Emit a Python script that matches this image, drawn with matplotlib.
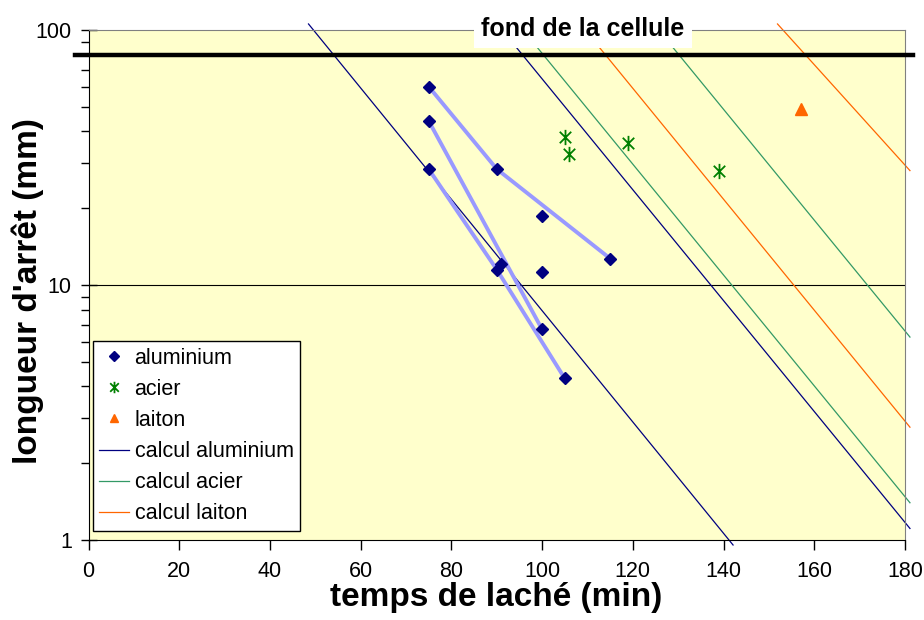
import matplotlib
matplotlib.use("Agg")
import matplotlib.pyplot as plt
from matplotlib.path import Path
from matplotlib.ticker import FixedLocator, NullFormatter, FuncFormatter

plt.rcParams["font.family"] = ["Liberation Sans", "DejaVu Sans"]

# ============================== Données

# aluminium : temps de laché (min), longueur d'arrêt (mm)
alu_t = [75, 75, 75, 90, 100, 115, 100, 90, 91, 100, 105]
alu_L = [60, 44, 28.5, 28.5, 18.6, 12.7, 11.2, 11.5, 12.1, 6.7, 4.3]

# séries reliées (indices dans alu_t / alu_L)
alu_chains = [[0, 3, 5], [1, 9], [2, 7, 10]]

acier_t = [105, 106, 119, 139]
acier_L = [38.2, 32.6, 36.1, 28.0]

laiton_t = [157]
laiton_L = [49]

# droites calculées : (t début, t fin), (L début, L fin)
calc_alu = [([48.5, 142.1], [105.6, 0.956]),
            ([90.1, 181.1], [105.6, 1.11])]
calc_acier = [([94.7, 181.1], [105.6, 1.40]),
              ([124.6, 181.1], [105.6, 6.25])]
calc_laiton = [([108.4, 181.1], [105.6, 2.77]),
               ([151.9, 181.1], [105.6, 28.1])]

FOND = 80   # fond de la cellule (mm)

xticks = list(range(0, 181, 20))

# marqueur "étoile" façon Excel : X + trait vertical
STAR = Path([(0, -1), (0, 1), (-0.75, -0.75), (0.75, 0.75), (-0.75, 0.75), (0.75, -0.75)],
            [Path.MOVETO, Path.LINETO, Path.MOVETO, Path.LINETO, Path.MOVETO, Path.LINETO])

# ============================== Figure

fig = plt.figure(figsize=(9.24, 6.2), dpi=100)
ax = fig.add_axes([0.0958, 0.1290, 0.8836, 0.8226])
ax.set_facecolor("#FFFFCC")

ax.set_yscale("log")
ax.set_xlim(0, 180)
ax.set_ylim(1, 100)

# grille majeure (10)
ax.axhline(10, color="black", lw=0.8, zorder=1)

# droites calculées
for i, (t, L) in enumerate(calc_alu):
    ax.plot(t, L, color="#000080", lw=0.9, clip_on=False, zorder=2,
            label="calcul aluminium" if i == 0 else None)
for i, (t, L) in enumerate(calc_acier):
    ax.plot(t, L, color="#339966", lw=0.9, clip_on=False, zorder=2,
            label="calcul acier" if i == 0 else None)
for i, (t, L) in enumerate(calc_laiton):
    ax.plot(t, L, color="#FF6600", lw=0.9, clip_on=False, zorder=2,
            label="calcul laiton" if i == 0 else None)

# liaisons aluminium
for chain in alu_chains:
    ax.plot([alu_t[k] for k in chain], [alu_L[k] for k in chain],
            color="#9999FF", lw=2.8, solid_capstyle="round", zorder=3)

# points
ax.plot(alu_t, alu_L, ls="none", marker="D", ms=6.5, color="#000080",
        zorder=4, label="aluminium")
ax.plot(acier_t, acier_L, ls="none", marker=STAR, ms=11, mew=1.3,
        color="#008000", zorder=4, label="acier")
ax.plot(laiton_t, laiton_L, ls="none", marker="^", ms=8, color="#FF6600",
        zorder=4, label="laiton")

# fond de la cellule
ax.axhline(FOND, xmin=-0.017, xmax=1.01, color="black", lw=3.2,
           clip_on=False, zorder=5)
ax.text(109, 100.5, "fond de la cellule", ha="center", va="center",
        fontsize=18, fontweight="bold", zorder=6,
        bbox=dict(facecolor="white", edgecolor="none", pad=5))

# axes
for side in ("top", "right"):
    ax.spines[side].set_color("#808080")
for side in ("left", "bottom"):
    ax.spines[side].set_color("black")

ax.set_xticks(xticks)
ax.tick_params(axis="x", direction="out", length=7, width=1, labelsize=15.5, pad=8)
ax.yaxis.set_major_locator(FixedLocator([1, 10, 100]))
ax.yaxis.set_major_formatter(FuncFormatter(lambda v, p: f"{v:g}"))
ax.yaxis.set_minor_formatter(NullFormatter())
ax.tick_params(axis="y", which="major", direction="inout", length=12, width=1,
               labelsize=15.5, pad=6)
ax.tick_params(axis="y", which="minor", direction="out", length=6, width=1)

ax.set_xlabel("temps de laché (min)", fontsize=24, fontweight="bold")
ax.xaxis.set_label_coords(0.499, -0.083)
ax.set_ylabel("longueur d'arrêt (mm)", fontsize=24, fontweight="bold", va="center")
ax.yaxis.set_label_coords(-0.075, 0.488)

handles, labels = ax.get_legend_handles_labels()
order = ["aluminium", "acier", "laiton", "calcul aluminium", "calcul acier", "calcul laiton"]
hmap = dict(zip(labels, handles))
leg = ax.legend([hmap[k] for k in order], order, loc="lower left",
                bbox_to_anchor=(0.005, 0.018), fontsize=15.5, frameon=True,
                fancybox=False, edgecolor="black", framealpha=1,
                handlelength=1.4, handletextpad=0.25, labelspacing=0.47,
                borderpad=0.3, borderaxespad=0, markerscale=0.75)
leg.get_frame().set_linewidth(1)
leg.set_zorder(7)

fig.savefig("out.png", dpi=100)
